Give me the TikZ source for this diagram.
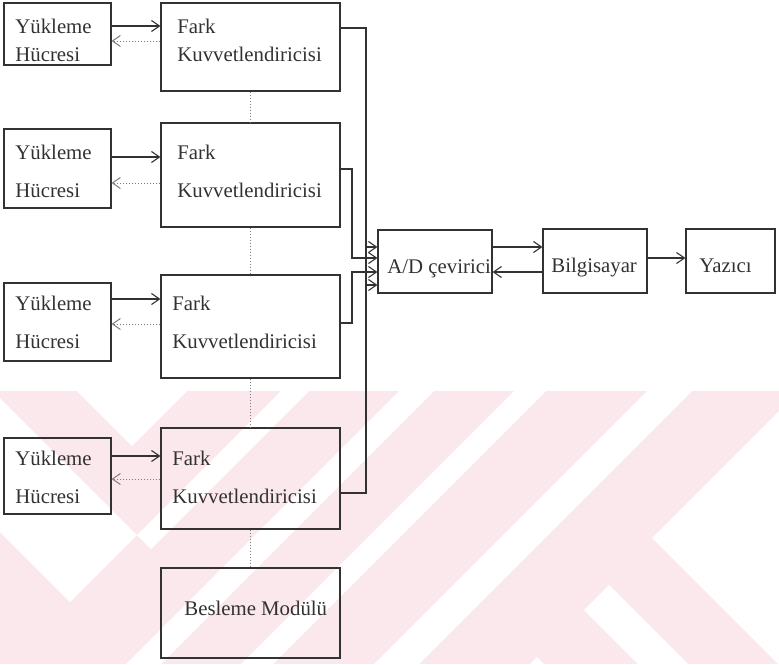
\documentclass[tikz,border=0pt]{standalone}
\usepackage{fontspec}
\setmainfont{Liberation Serif}
\usepackage{tikz}
\usetikzlibrary{arrows.meta}
\definecolor{inkgray}{RGB}{50,50,50}
\definecolor{dotgray}{RGB}{125,125,125}
\definecolor{wmpink}{RGB}{251,232,236}

\begin{document}
\begin{tikzpicture}[
    x=0.5pt, y=-0.5pt,
    font=\fontsize{10.4}{12}\selectfont,
    box/.style={draw=inkgray, line width=0.55pt, inner sep=0pt},
    lbl/.style={anchor=base west, inner sep=0pt, text=inkgray},
    wire/.style={draw=inkgray, line width=0.55pt},
    sig/.style={wire, -{Straight Barb[length=4pt,width=5.5pt]}},
    back/.style={draw=dotgray, line width=0.5pt, densely dotted, -{Straight Barb[length=4pt,width=5.5pt]}},
    link/.style={draw=dotgray, line width=0.5pt, densely dotted},
]
\useasboundingbox (0,0) rectangle (779,664);

% watermark in the lower part
\fill[wmpink] (0,391) rectangle (779,664);
\fill[white] (77,391) -- (187,391) -- (132,446) -- cycle;
\fill[white] (0,398) -- (137,535) -- (70,602) -- (0,532) -- cycle;
\fill[white] (137,535) -- (281,391) -- (309,391) -- (151,549) -- cycle;
\fill[white] (399,391) -- (434,391) -- (161,664) -- (126,664) -- cycle;
\fill[white] (514,391) -- (546,391) -- (273,664) -- (241,664) -- cycle;
\fill[white] (647,391) -- (692,391) -- (419,664) -- (374,664) -- cycle;
\fill[white] (779,411) -- (652,538) -- (779,665) -- cycle;
\fill[white] (584,610) -- (609,585) -- (688,664) -- (638,664) -- cycle;
\fill[white] (530,664) -- (537,657) -- (544,664) -- cycle;

% load cells and amplifiers
\foreach \i/\yc/\yh/\fc/\fh in {1/34/62/47/88, 2/168.5/79/175/104, 3/322/78/326.5/103, 4/476/76/478.5/101} {
    \node[box, minimum width=53.5pt, minimum height=\yh*0.5pt] (yk\i) at (57.5,\yc) {};
    \node[box, minimum width=89.5pt, minimum height=\fh*0.5pt] (fk\i) at (250.5,\fc) {};
}
\node[box, minimum width=89.5pt, minimum height=45pt] (bes) at (250.5,613) {};
\node[box, minimum width=57pt, minimum height=31.5pt] (ad) at (435,261.5) {};
\node[box, minimum width=52pt, minimum height=32pt] (bil) at (595,261) {};
\node[box, minimum width=44.5pt, minimum height=32pt] (yaz) at (730.5,261) {};

% texts
\foreach \i/\tx/\fx/\ba/\bb in {1/15/177/33/61, 2/15/177/159/197, 3/15/172/310/348, 4/15/172/465/503} {
    \node[lbl] (yka\i) at (\tx,\ba) {Yükleme};
    \node[lbl] (ykb\i) at (\tx,\bb) {Hücresi};
    \node[lbl] (fka\i) at (\fx,\ba) {Fark};
    \node[lbl] (fkb\i) at (\fx,\bb) {Kuvvetlendiricisi};
}
\node[lbl] (best) at (184,615) {Besleme Modülü};
\node[lbl] (adt) at (387,273) {A/D çevirici};
\node[lbl] (bilt) at (551,272) {Bilgisayar};
\node[lbl] (yazt) at (699,272) {Yazıcı};

% cell <-> amplifier
\foreach \i/\ya/\yb in {1/26/41, 2/157/183, 3/299/324, 4/456/479} {
    \coordinate (ra) at (0,\ya);
    \coordinate (rb) at (0,\yb);
    \draw[sig] (yk\i.east |- ra) -- (fk\i.west |- ra);
    \draw[back] (fk\i.west |- rb) -- (yk\i.east |- rb);
}

% supply chain
\foreach \a/\b in {fk1/fk2, fk2/fk3, fk3/fk4, fk4/bes}
    \draw[link] (\a.south) -- (\b.north);

% amplifier outputs to A/D
\coordinate (busa) at (366,0);
\coordinate (busb) at (352,0);
\coordinate (in1) at (0,247);
\coordinate (in2) at (0,258);
\coordinate (in3) at (0,272);
\coordinate (in4) at (0,285);
\foreach \f/\yo/\bus/\n in {fk1/28/busa/in1, fk2/169/busb/in2, fk3/323/busb/in3, fk4/493/busa/in4} {
    \coordinate (ro) at (0,\yo);
    \draw[sig] (\f.east |- ro) -| (\bus |- \n) -- (ad.west |- \n);
}
\draw[wire] (busa |- in1) -- (busa |- in4);

% A/D, computer, printer
\draw[sig] (ad.east |- in1) -- (bil.west |- in1);
\draw[sig] (bil.west |- in3) -- (ad.east |- in3);
\draw[sig] (bil.east |- in2) -- (yaz.west |- in2);

\end{tikzpicture}
\end{document}
